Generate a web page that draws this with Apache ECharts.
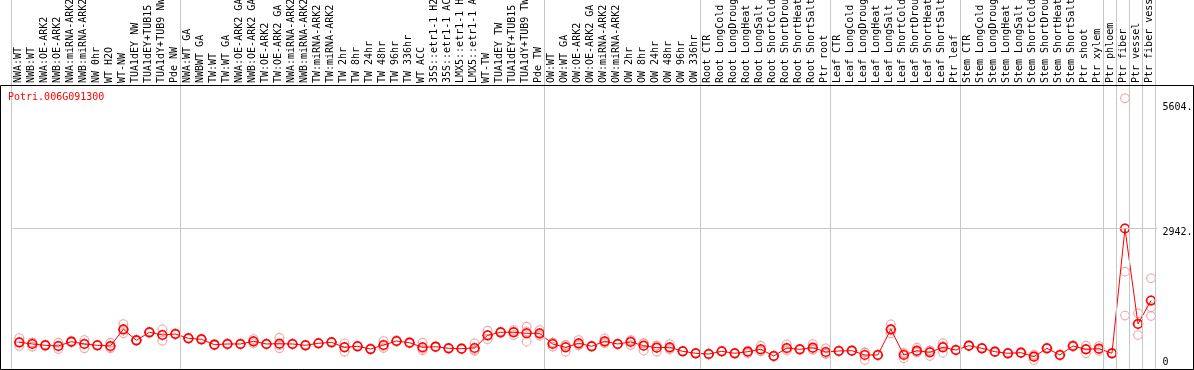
<!DOCTYPE html>
<html><head><meta charset="utf-8">
<script src="https://cdn.jsdelivr.net/npm/echarts@6/dist/echarts.min.js"></script>
<style>html,body{margin:0;padding:0;background:#fff}#c{width:1194px;height:370px}</style>
</head><body><div id="c"></div>
<script>
const geneId = 'Potri.006G091300';
const categories = [
 'NWA:WT','NWB:WT','NWA:OE-ARK2','NWB:OE-ARK2','NWA:miRNA-ARK2','NWB:miRNA-ARK2','NW 0hr','WT H2O','WT-NW','TUA1dEY NW',
 'TUA1dEY+TUB15 NW','TUA1dY+TUB9 NW','Pde NW','NWA:WT GA','NWBWT GA','TW:WT','TW:WT GA','NWA:OE-ARK2 GA','NWB:OE-ARK2 GA','TW:OE-ARK2',
 'TW:OE-ARK2 GA','NWA:miRNA-ARK2 GA','NWB:miRNA-ARK2 GA','TW:miRNA-ARK2','TW:miRNA-ARK2 GA','TW 2hr','TW 8hr','TW 24hr','TW 48hr','TW 96hr',
 'TW 336hr','WT ACC','35S::etr1-1 H2O','35S::etr1-1 ACC','LMX5::etr1-1 H2O','LMX5::etr1-1 ACC','WT-TW','TUA1dEY TW','TUA1dEY+TUB15 TW','TUA1dY+TUB9 TW',
 'Pde TW','OW:WT','OW:WT GA','OW:OE-ARK2','OW:OE-ARK2 GA','OW:miRNA-ARK2','OW:miRNA-ARK2 GA','OW 2hr','OW 8hr','OW 24hr',
 'OW 48hr','OW 96hr','OW 336hr','Root CTR','Root LongCold','Root LongDrought','Root LongHeat','Root LongSalt','Root ShortCold','Root ShortDrought',
 'Root ShortHeat','Root ShortSalt','Ptr root','Leaf CTR','Leaf LongCold','Leaf LongDrought','Leaf LongHeat','Leaf LongSalt','Leaf ShortCold','Leaf ShortDrought',
 'Leaf ShortHeat','Leaf ShortSalt','Ptr leaf','Stem CTR','Stem LongCold','Stem LongDrought','Stem LongHeat','Stem LongSalt','Stem ShortCold','Stem ShortDrought',
 'Stem ShortHeat','Stem ShortSalt','Ptr shoot','Ptr xylem','Ptr phloem','Ptr fiber','Ptr vessel','Ptr fiber vessel'
];
const meanValues = [
 615,581,554,540,628,581,554,540,881,656,
 820,765,785,697,677,566,581,581,636,581,
 587,581,554,595,615,513,534,478,560,642,
 607,513,525,493,485,499,759,820,820,799,
 799,581,513,595,534,636,581,622,546,505,
 513,431,391,376,431,391,423,472,335,499,
 472,505,417,438,444,356,356,881,356,444,
 411,513,458,546,493,423,391,403,321,493,
 356,540,472,485,391,2942,990,1469
];
const rep1 = [
 703,607,570,607,645,662,560,607,990,670,
 835,881,800,710,690,580,595,590,683,590,
 709,590,565,605,625,595,545,490,642,655,
 620,607,535,505,495,595,853,835,867,934,
 867,611,560,662,545,697,590,660,599,546,
 581,440,400,385,440,400,440,546,345,575,
 480,581,493,446,452,410,366,983,400,505,
 450,595,466,556,503,433,401,413,360,503,
 366,560,546,540,401,5604,1208,1924
];
const rep2 = [
 602,611,554,535,628,588,554,520,854,656,
 820,766,785,697,677,566,581,581,630,581,
 559,581,554,595,615,521,534,478,540,642,
 607,480,525,493,485,460,747,820,828,835,
 780,607,556,570,534,615,581,646,595,546,
 485,431,391,376,431,391,438,440,335,478,
 472,470,380,438,444,404,356,861,380,420,
 448,541,458,546,493,423,391,403,349,493,
 356,535,479,477,391,2060,997,1331
];
const rep3 = [
 540,525,538,478,611,493,548,493,799,642,
 805,648,770,684,664,552,567,572,595,572,
 493,572,543,585,605,423,523,466,498,629,
 594,452,515,481,475,442,677,805,765,628,
 750,525,423,553,523,596,572,560,444,423,
 473,422,382,367,422,382,391,430,325,444,
 464,464,378,430,436,254,346,799,288,407,
 335,403,450,536,483,413,381,393,254,483,
 346,525,391,438,381,1162,765,1153
];
const groupBoundaries = [-0.5, 12.5, 40.5, 52.5, 62.5, 72.5, 83.5, 84.5, 85.5, 86.5, 87.5];
const yTickValues = [0, 2942, 5604];
const yTickLabels = ['0', '2942.', '5604.'];
const yMax = 5604;
const refLineValue = 2942;

const FONT = 'DejaVu Sans Mono';
const RED = '#ff0000';
const PINK = '#ee9393';
const GRAY = '#c6c6c6';
const markerPath = 'path://M0,-5.3L0,-4.3M0,4.3L0,5.3M-5.3,0L-4.3,0M4.3,0L5.3,0M4.3,0A4.3,4.3,0,1,1,-4.3,0A4.3,4.3,0,1,1,4.3,0Z';

const chart = echarts.init(document.getElementById('c'), null, {renderer: 'canvas'});
const repSeries = [rep1, rep2, rep3].map(function (rep) {
  return {
    type: 'scatter', xAxisIndex: 0, yAxisIndex: 0, silent: true, z: 2,
    data: rep.map(function (v, i) { return [i, v]; }),
    symbol: markerPath, symbolSize: 10.6,
    itemStyle: {color: 'rgba(0,0,0,0)', borderColor: PINK, borderWidth: 1.1}
  };
});
const styleKey = ['b', 'm', 't'];
chart.setOption({
  animation: false,
  backgroundColor: '#fff',
  title: {text: geneId, left: 8, top: 92, padding: 0,
    textStyle: {color: RED, fontSize: 10, fontFamily: FONT, fontWeight: 'normal'}},
  grid: [
    {left: 12.8, width: 1144.7, top: 98.3, height: 274.1, containLabel: false, outerBoundsMode: 'none'},
    {left: 11.5, width: 1144, top: 0, height: 369, containLabel: false, outerBoundsMode: 'none'}
  ],
  xAxis: [
    {type: 'category', gridIndex: 0, data: categories, boundaryGap: true, show: false},
    {type: 'category', gridIndex: 1, data: categories, position: 'top', offset: -86,
      axisLine: {show: false}, axisTick: {show: false}, splitLine: {show: false},
      axisLabel: {interval: 0, rotate: 90, margin: 3, fontSize: 10, fontFamily: FONT, color: '#000'}},
    {type: 'value', gridIndex: 1, min: -0.5, max: 87.5, show: false}
  ],
  yAxis: [
    {type: 'value', gridIndex: 0, min: 0, max: yMax, position: 'right',
      splitLine: {show: false}, axisLine: {show: false}, axisTick: {show: false},
      axisLabel: {customValues: yTickValues, margin: 5, fontSize: 10, fontFamily: FONT, color: '#000',
        formatter: function (v) {
          var i = yTickValues.indexOf(v);
          if (i < 0) return '';
          var k = styleKey[i];
          if (k === 'b') return '{b|' + yTickLabels[i] + '}\n{b| }';
          return '{' + k + '| }\n{' + k + '|' + yTickLabels[i] + '}';
        },
        rich: {
          t: {lineHeight: 18, fontSize: 10, fontFamily: FONT, color: '#000'},
          m: {lineHeight: 7, fontSize: 10, fontFamily: FONT, color: '#000'},
          b: {lineHeight: 20, fontSize: 10, fontFamily: FONT, color: '#000'}
        }}},
    {type: 'value', gridIndex: 1, min: 0, max: 1, show: false}
  ],
  graphic: [
    {type: 'rect', shape: {x: 0.5, y: 85.5, width: 1193, height: 284}, silent: true, z: 100,
      style: {fill: 'none', stroke: '#000', lineWidth: 1}}
  ],
  series: [
    {type: 'line', xAxisIndex: 2, yAxisIndex: 1, data: [], silent: true, z: 1, symbol: 'none',
      markLine: {silent: true, symbol: ['none', 'none'], label: {show: false}, animation: false,
        lineStyle: {color: GRAY, width: 1, type: 'solid'},
        data: groupBoundaries.map(function (b) { return {xAxis: b}; })}}
  ].concat(repSeries).concat([
    {type: 'line', xAxisIndex: 0, yAxisIndex: 0, data: meanValues, silent: true, z: 3,
      symbol: markerPath, symbolSize: 10.6, showAllSymbol: true,
      lineStyle: {color: RED, width: 1},
      itemStyle: {color: 'rgba(0,0,0,0)', borderColor: RED, borderWidth: 1.6},
      markLine: {silent: true, symbol: ['none', 'none'], label: {show: false}, animation: false,
        lineStyle: {color: GRAY, width: 1, type: 'solid'},
        data: [{yAxis: refLineValue}]}}
  ])
});
</script></body></html>
